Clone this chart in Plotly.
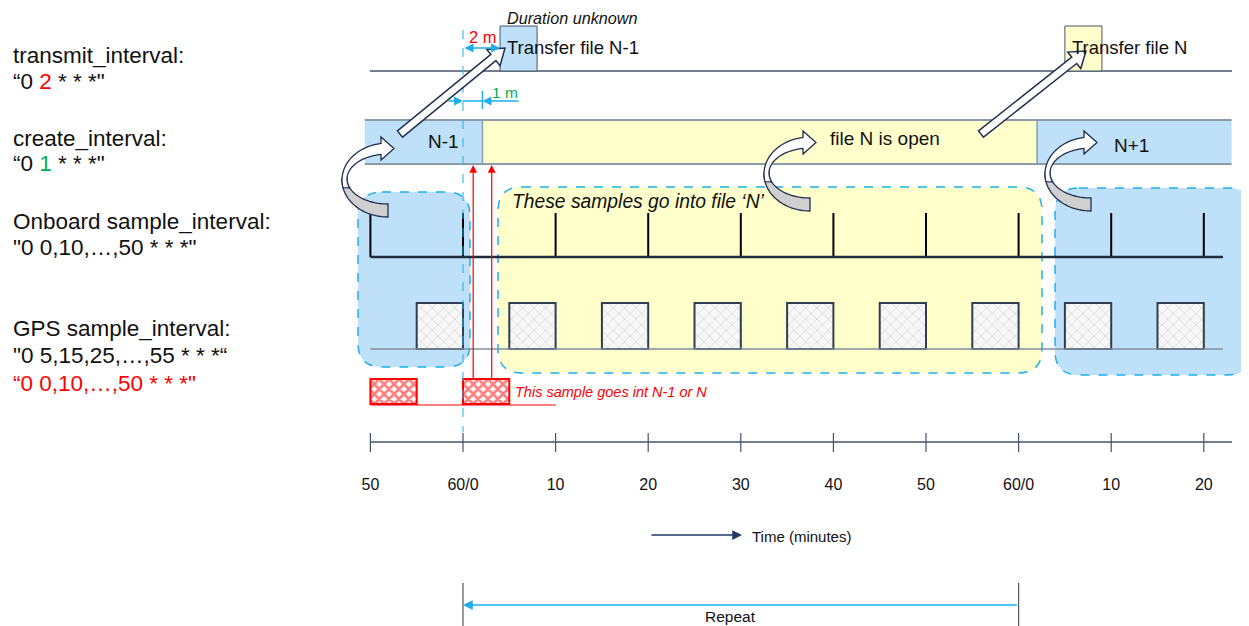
import math
import numpy as np
import plotly.graph_objects as go

# ---------------- data (minutes) ----------------
tick_minutes = [-10, 0, 10, 20, 30, 40, 50, 60, 70, 80]
tick_labels = ["50", "60/0", "10", "20", "30", "40", "50", "60/0", "10", "20"]
onboard_samples = [-10, 0, 10, 20, 30, 40, 50, 60, 70, 80]
gps_samples = [-5, 5, 15, 25, 35, 45, 55, 65, 75]
gps_alt_samples = [-10, 0]
sample_length = 5
file_labels = ["N-1", "file N is open", "N+1"]
file_starts = [-10.6, 2.1, 62.0]
file_ends = [2.1, 62.0, 83.0]
transfer_labels = ["Transfer file N-1", "Transfer file N"]
transfer_starts = [4.0, 65.0]
transfer_ends = [8.0, 69.0]
create_marks = [1.1, 3.1]
repeat_span = [0, 60]
left_labels = [
    "transmit_interval:",
    '“0 <span style="color:#FF0000">2</span> * * *"',
    "create_interval:",
    '“0 <span style="color:#00B050">1</span> * * *"',
    "Onboard sample_interval:",
    '"0 0,10,…,50 * * *"',
    "GPS sample_interval:",
    '"0 5,15,25,…,55 * * *“',
    '<span style="color:#FF0000">“0 0,10,…,50 * * *"</span>',
]

# ---------------- layout constants ----------------
PAGE_OFF = 8                      # default body margin of the html page
W, H = 1249 - PAGE_OFF, 626 - PAGE_OFF
X0_PX, PX_PER_MIN = 463.0, 9.26
FONT = "Liberation Sans, Arial, sans-serif"
BLUE = "#BEE1F9"
YELLOW = "#FFFFCC"
CYAN = "#1EAEEA"
SLATE = "#44546A"
NAVY = "#1F3050"
BARLINE = "#8C9BAA"


def X(px):
    return (px - X0_PX) / PX_PER_MIN


def poly_path(pts):
    s = "M " + " L ".join(f"{X(px):.4f},{py:.3f}" for px, py in pts)
    return s + " Z"


def rr_path(x0, y0, x1, y1, r):
    c = lambda px, py: f"{X(px):.4f},{py:.3f}"
    return (f"M {c(x0 + r, y0)} L {c(x1 - r, y0)} Q {c(x1, y0)} {c(x1, y0 + r)} "
            f"L {c(x1, y1 - r)} Q {c(x1, y1)} {c(x1 - r, y1)} L {c(x0 + r, y1)} "
            f"Q {c(x0, y1)} {c(x0, y1 - r)} L {c(x0, y0 + r)} Q {c(x0, y0)} {c(x0 + r, y0)} Z")


fig = go.Figure()
shapes = []
ann = []

# dashed rounded group boxes
for (x0, y0, x1, y1, col) in [(358, 192, 470, 367, BLUE),
                              (498, 187, 1042, 373, YELLOW),
                              (1055, 188, 1252, 375, BLUE)]:
    shapes.append(dict(type="path", path=rr_path(x0, y0, x1, y1, 24), fillcolor=col,
                       line=dict(color=CYAN, width=1.5, dash="dash"), layer="below"))

# create interval bar
for s, e, lab in zip(file_starts, file_ends, file_labels):
    shapes.append(dict(type="rect", x0=s, x1=e, y0=120, y1=164,
                       fillcolor=YELLOW if lab.startswith("file") else BLUE,
                       line=dict(width=0), layer="below"))
for yy in (120, 164):
    shapes.append(dict(type="line", x0=file_starts[0], x1=file_ends[-1], y0=yy, y1=yy,
                       line=dict(color=BARLINE, width=2), layer="below"))
for b in file_starts[1:]:
    shapes.append(dict(type="line", x0=b, x1=b, y0=120, y1=164,
                       line=dict(color=BARLINE, width=1.5), layer="below"))
label_pos = [(443, 141), (885, 138), (1131, 145)]
for lab, (px, py) in zip(file_labels, label_pos):
    ann.append(dict(x=X(px), y=py, text=lab, showarrow=False, xanchor="center",
                    font=dict(size=19, color="#111", family=FONT)))

# transmit line and transfer boxes
shapes.append(dict(type="line", x0=X(370), x1=X(1232), y0=71, y1=71,
                   line=dict(color=SLATE, width=1.3), layer="below"))
for s, e, lab, col in zip(transfer_starts, transfer_ends, transfer_labels, [BLUE, YELLOW]):
    shapes.append(dict(type="rect", x0=s, x1=e, y0=26, y1=71, fillcolor=col,
                       line=dict(color=SLATE, width=1), layer="below"))
    ann.append(dict(x=s + X(505) - X(500), y=47, text=lab, showarrow=False, xanchor="left",
                    font=dict(size=18.5, color="#111", family=FONT)))
ann.append(dict(x=transfer_starts[0] + X(505) - X(500), y=18, text="<i>Duration unknown</i>",
                showarrow=False, xanchor="left", font=dict(size=16.2, color="#111", family=FONT)))

# dashed reference line at 0
shapes.append(dict(type="line", x0=0, x1=0, y0=30, y1=432,
                   line=dict(color=CYAN, width=1, dash="dash"), layer="above"))

# 2 m arrow
ann.append(dict(x=transfer_starts[0], y=48, ax=0, ay=48, axref="x", ayref="y", xref="x", yref="y",
                text="", showarrow=True, arrowhead=2, arrowside="end+start", arrowsize=1.2,
                arrowwidth=1.5, arrowcolor=CYAN))
ann.append(dict(x=X(483), y=37, text="2 m", showarrow=False, xanchor="center",
                font=dict(size=16.5, color="#FF0000", family=FONT)))
# 1 m arrows
ann.append(dict(x=0, y=101, ax=X(447), ay=101, axref="x", ayref="y", text="", showarrow=True,
                arrowhead=2, arrowsize=1.2, arrowwidth=1.5, arrowcolor=CYAN))
ann.append(dict(x=file_starts[1], y=101, ax=X(520), ay=101, axref="x", ayref="y", text="",
                showarrow=True, arrowhead=2, arrowsize=1.2, arrowwidth=1.5, arrowcolor=CYAN))
shapes.append(dict(type="line", x0=0, x1=file_starts[1], y0=101, y1=101,
                   line=dict(color=CYAN, width=1.5)))
shapes.append(dict(type="line", x0=file_starts[1], x1=file_starts[1], y0=91, y1=109,
                   line=dict(color=CYAN, width=1.5)))
ann.append(dict(x=X(505), y=92, text="1 m", showarrow=False, xanchor="center",
                font=dict(size=15.5, color="#00B050", family=FONT)))

# red arrows from GPS sample up to the create bar
for t in create_marks:
    ann.append(dict(x=t, y=165, ax=t, ay=380, axref="x", ayref="y", text="", showarrow=True,
                    arrowhead=2, arrowsize=1.3, arrowwidth=1.2, arrowcolor="#FF0000"))

# group text
ann.append(dict(x=X(510), y=201, text="<i>These samples go into file ‘N’</i>", showarrow=False,
                xanchor="left", font=dict(size=19.3, color="#111", family=FONT)))

# onboard samples
xs, ys = [], []
for t in onboard_samples:
    xs += [t, t, None]
    ys += [213, 257, None]
fig.add_trace(go.Scatter(x=xs, y=ys, mode="lines", line=dict(color="#000000", width=2),
                         hoverinfo="skip"))
fig.add_trace(go.Scatter(x=[onboard_samples[0], X(1223)], y=[257, 257], mode="lines",
                         line=dict(color="#1F2D3D", width=2.5), hoverinfo="skip"))

# GPS baseline and samples
fig.add_trace(go.Scatter(x=[onboard_samples[0], X(1223)], y=[349, 349], mode="lines",
                         line=dict(color="#7F8FA0", width=1.5), hoverinfo="skip"))
fig.add_trace(go.Bar(x=[s + sample_length / 2 for s in gps_samples], y=[46] * len(gps_samples),
                     base=303, width=sample_length,
                     marker=dict(color="#F4F4F4", line=dict(color="#2F3E50", width=2),
                                 pattern=dict(shape="x", fgcolor="#A8A8A8", bgcolor="#F7F7F7",
                                              size=8, solidity=0.15)),
                     hoverinfo="skip"))
fig.add_trace(go.Bar(x=[s + sample_length / 2 for s in gps_alt_samples], y=[25] * len(gps_alt_samples),
                     base=379, width=sample_length,
                     marker=dict(color="#FF0000", line=dict(color="#FF0000", width=2),
                                 pattern=dict(shape="x", fgcolor="#FF0000", bgcolor="#FFFFFF",
                                              size=7, solidity=0.62)),
                     hoverinfo="skip"))
fig.add_trace(go.Scatter(x=[gps_alt_samples[0], X(556)], y=[405, 405], mode="lines",
                         line=dict(color="#FF0000", width=1), hoverinfo="skip"))
ann.append(dict(x=X(513), y=392, text="<i>This sample goes int N-1 or N</i>", showarrow=False,
                xanchor="left", font=dict(size=14.5, color="#FF0000", family=FONT)))

# time axis
xs, ys = [], []
for t in tick_minutes:
    xs += [t, t, None]
    ys += [433, 452, None]
fig.add_trace(go.Scatter(x=xs, y=ys, mode="lines", line=dict(color=SLATE, width=1.2),
                         hoverinfo="skip"))
fig.add_trace(go.Scatter(x=[tick_minutes[0], X(1232)], y=[442, 442], mode="lines",
                         line=dict(color=SLATE, width=1.3), hoverinfo="skip"))
fig.add_trace(go.Scatter(x=tick_minutes, y=[486] * len(tick_minutes), mode="text",
                         text=tick_labels, textfont=dict(size=16, color="#111", family=FONT),
                         hoverinfo="skip"))

# time direction arrow
ann.append(dict(x=X(742), y=535, ax=X(650), ay=535, axref="x", ayref="y", text="", showarrow=True,
                arrowhead=2, arrowsize=1.3, arrowwidth=1.5, arrowcolor="#1F3864"))
ann.append(dict(x=X(750), y=536, text="Time (minutes)", showarrow=False, xanchor="left",
                font=dict(size=15, color="#111", family=FONT)))

# repeat
for t in repeat_span:
    shapes.append(dict(type="line", x0=t, x1=t, y0=583, y1=626, line=dict(color="#555", width=1.2)))
ann.append(dict(x=repeat_span[0], y=605, ax=repeat_span[1], ay=605, axref="x", ayref="y", text="",
                showarrow=True, arrowhead=2, arrowsize=1.3, arrowwidth=1.5, arrowcolor=CYAN))
ann.append(dict(x=X(730), y=616, text="Repeat", showarrow=False, xanchor="center",
                font=dict(size=15.5, color="#111", family=FONT)))

# left labels
label_y = [55, 81, 138, 163, 221, 247, 328, 355, 383]
for txt, yy in zip(left_labels, label_y):
    ann.append(dict(x=X(11), y=yy, text=txt, showarrow=False, xanchor="left",
                    font=dict(size=22.5, color="#111", family=FONT)))


# block arrows
def block_arrow(tail, tip, w=4.0, hw=10.5, hl=15.0):
    tail = np.array(tail, float)
    tip = np.array(tip, float)
    d = tip - tail
    d /= np.linalg.norm(d)
    n = np.array([-d[1], d[0]])
    base = tip - d * hl
    pts = [tail + n * w, base + n * w, base + n * hw, tip, base - n * hw, base - n * w, tail - n * w]
    return poly_path([tuple(p) for p in pts])


for tail, tip in [((400, 134), (505, 48)), ((981, 134), (1086, 51))]:
    shapes.append(dict(type="path", path=block_arrow(tail, tip), fillcolor="white",
                       line=dict(color=NAVY, width=1.5), layer="above"))


# curved arrows
def curved_arrow(tx, ty):
    ocx, ocy, orx, ory = -6, 32, 46, 37
    icx, icy, irx, iry = -6, 31, 41, 25
    ts = 1.78
    to0 = math.asin(7 / orx)
    ti0 = math.asin(7 / irx)
    op = lambda th: (tx + ocx - orx * math.sin(th), ty + ocy - ory * math.cos(th))
    ip = lambda th: (tx + icx - irx * math.sin(th), ty + icy - iry * math.cos(th))
    back = [op(t) for t in np.linspace(ts - 0.25, math.pi, 25)] + \
           [ip(t) for t in np.linspace(math.pi, ts - 0.25, 25)]
    front = [(tx, ty + 0.5), (tx - 13, ty - 11)] + \
            [op(t) for t in np.linspace(to0, ts, 30)] + \
            [ip(t) for t in np.linspace(ts + 0.15, ti0, 30)] + [(tx - 13, ty + 12)]
    return poly_path(back), poly_path(front)


for tx, ty in [(394, 148), (816, 142), (1097, 142)]:
    b, f = curved_arrow(tx, ty)
    shapes.append(dict(type="path", path=b, fillcolor="#D0D0D0",
                       line=dict(color=NAVY, width=1.3), layer="above"))
    shapes.append(dict(type="path", path=f, fillcolor="white",
                       line=dict(color=NAVY, width=1.3), layer="above"))

fig.update_layout(
    width=W, height=H, margin=dict(l=0, r=0, t=0, b=0),
    paper_bgcolor="white", plot_bgcolor="white", showlegend=False,
    barmode="overlay",
    xaxis=dict(range=[X(PAGE_OFF), X(1249)], visible=False, fixedrange=True),
    yaxis=dict(range=[626, PAGE_OFF], visible=False, fixedrange=True),
    shapes=shapes, annotations=ann,
    font=dict(family=FONT),
)
fig.write_html("out.html")
